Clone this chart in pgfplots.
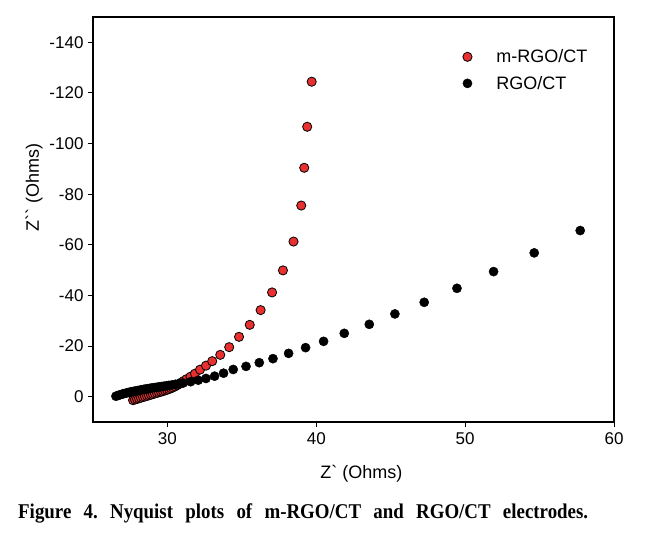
\documentclass[border=0pt]{standalone}
\usepackage{fontspec}
\setmainfont{Liberation Sans}
\newfontfamily\capfont[FakeStretch=0.9]{Liberation Serif}
\usepackage{pgfplots}
\pgfplotsset{compat=1.18}
\usepackage{pgfplotstable}
\definecolor{mred}{RGB}{232,48,48}

\pgfplotstableread{
x y
27.69 1.38
27.82 1.11
27.96 0.87
28.09 0.63
28.22 0.40
28.36 0.16
28.49 -0.08
28.63 -0.32
28.76 -0.55
28.90 -0.79
29.03 -1.03
29.16 -1.27
29.30 -1.50
29.43 -1.74
29.57 -1.98
29.70 -2.21
29.84 -2.45
29.97 -2.73
30.10 -3.01
30.24 -3.32
30.37 -3.68
30.51 -4.07
30.64 -4.51
30.78 -4.98
30.91 -5.54
31.08 -6.17
31.28 -6.92
31.55 -7.91
31.85 -9.09
32.19 -10.68
32.59 -12.26
33.01 -14.04
33.55 -16.53
34.15 -19.57
34.81 -23.65
35.53 -28.39
36.26 -34.20
37.03 -41.20
37.76 -49.90
38.47 -61.29
38.99 -75.52
39.19 -90.43
39.39 -106.64
39.69 -124.44
}\mrgo

\pgfplotstableread{
x y
26.54 -0.20
26.68 -0.47
26.81 -0.75
26.95 -0.99
27.08 -1.23
27.22 -1.42
27.35 -1.62
27.48 -1.82
27.62 -1.98
27.75 -2.14
27.89 -2.29
28.02 -2.45
28.16 -2.61
28.29 -2.77
28.43 -2.93
28.56 -3.04
28.69 -3.16
28.83 -3.32
28.96 -3.44
29.10 -3.56
29.23 -3.68
29.37 -3.80
29.50 -3.91
29.63 -4.03
29.77 -4.15
29.94 -4.31
30.10 -4.47
30.31 -4.67
30.54 -4.90
30.78 -5.14
31.06 -5.42
31.56 -5.93
32.07 -6.52
32.59 -7.20
33.17 -8.11
33.77 -9.29
34.42 -10.76
35.28 -11.98
36.17 -13.44
37.09 -15.03
38.14 -17.12
39.28 -19.38
40.49 -21.87
41.88 -25.03
43.56 -28.59
45.28 -32.70
47.25 -37.29
49.45 -42.82
51.91 -49.43
54.64 -56.82
57.73 -65.64
}\rgo

\begin{document}
\frenchspacing
\begin{tikzpicture}
\begin{axis}[
  scale only axis,
  width=521pt, height=405pt,
  xmin=25, xmax=60,
  ymin=-150, ymax=10,
  y dir=reverse,
  xtick={30,40,50,60},
  ytick={-140,-120,-100,-80,-60,-40,-20,0},
  xtick pos=bottom, ytick pos=left,
  tick align=outside,
  major tick length=5pt,
  axis line style={line width=1.1pt},
  every tick/.style={line width=0.9pt, black},
  /pgf/number format/assume math mode=true,
  ticklabel style={font=\fontsize{17}{20}\selectfont},
  xticklabel style={yshift=-2pt},
  yticklabel style={xshift=-1pt},
  xlabel={Z\textasciigrave{} (Ohms)},
  ylabel={Z\textasciigrave\textasciigrave{} (Ohms)},
  label style={font=\fontsize{18}{21}\selectfont},
  xlabel style={at={(axis description cs:0.515,0)}, anchor=base, yshift=-56pt},
  ylabel style={at={(axis description cs:-0.113,0.58)}, anchor=center},
  legend image code/.code={\draw[#1] plot coordinates {(0pt,0pt)}; \path[draw=none,fill=none] (-5pt,0pt) -- (27pt,0pt);},
  legend style={at={(axis description cs:0.703,0.93)}, anchor=north west,
    draw=none, fill=none, font=\fontsize{18}{21}\selectfont, row sep=8pt},
  legend cell align=left,
]
\addplot[only marks, mark=*, mark size=4.6pt, mark options={fill=mred, draw=black, line width=0.8pt}] table[x=x,y=y] {\mrgo};
\addlegendentry{m-RGO/CT}
\addplot[only marks, mark=*, mark size=4.6pt, mark options={fill=black, draw=black}] table[x=x,y=y] {\rgo};
\addlegendentry{RGO/CT}
\end{axis}
\path (current axis.south west) ++(-93pt,-120pt) rectangle ++(647pt,542pt);
\node[anchor=base west, inner sep=0pt, font=\capfont\bfseries\fontsize{21}{25}\selectfont] at ([xshift=-75pt,yshift=-96pt]current axis.south west) {\makebox[570pt][s]{Figure 4. Nyquist plots of m-RGO/CT and RGO/CT electrodes.}};
\end{tikzpicture}
\end{document}
